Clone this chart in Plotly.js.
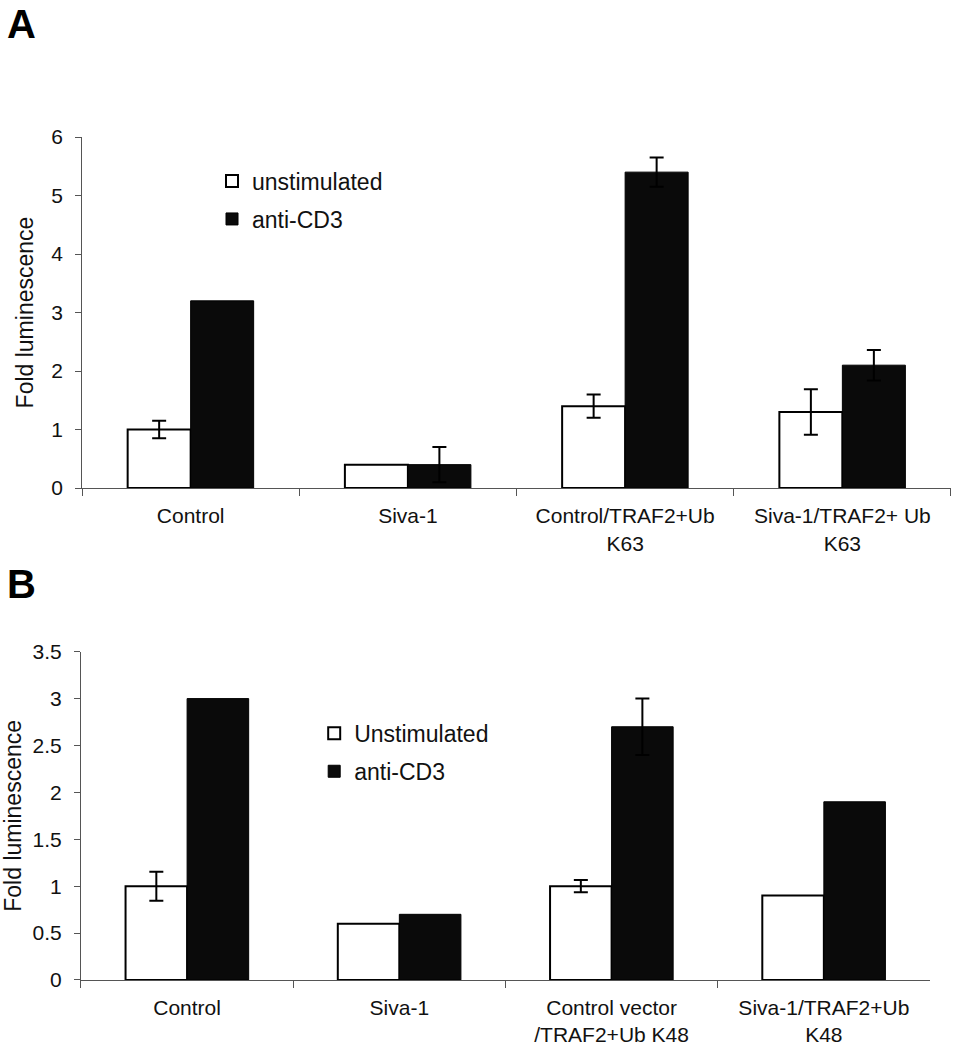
<!DOCTYPE html>
<html>
<head>
<meta charset="utf-8">
<script src="https://cdn.plot.ly/plotly-3.0.1.min.js"></script>
<style>html,body{margin:0;padding:0;background:#fff;}#chart{width:955px;height:1050px;}</style>
</head>
<body>
<div id="chart"></div>
<script>
// Panel A data (NaN = no error bar drawn)
const catsA = ["Control", "Siva-1", "Control/TRAF2+Ub<br>K63", "Siva-1/TRAF2+ Ub<br>K63"];
const unstimA = [1.0, 0.4, 1.4, 1.3];
const unstimErrA = [0.15, NaN, 0.2, 0.39];
const antiA = [3.2, 0.4, 5.4, 2.1];
const antiErrA = [NaN, 0.3, 0.25, 0.26];
const yTicksA = [0, 1, 2, 3, 4, 5, 6];

// Panel B data
const catsB = ["Control", "Siva-1", "Control vector<br>/TRAF2+Ub K48", "Siva-1/TRAF2+Ub<br>K48"];
const unstimB = [1.0, 0.6, 1.0, 0.9];
const unstimErrB = [0.155, NaN, 0.065, NaN];
const antiB = [3.0, 0.7, 2.7, 1.9];
const antiErrB = [NaN, NaN, 0.3, NaN];
const yTicksB = [0, 0.5, 1, 1.5, 2, 2.5, 3, 3.5];

const FONT = "Liberation Sans, Arial, sans-serif";
const errStyle = {type: "data", visible: true, color: "#000", thickness: 2, width: 7};

const traces = [
  {type: "bar", x: catsA, y: unstimA, name: "unstimulated", xaxis: "x", yaxis: "y",
   marker: {color: "#fff", line: {color: "#000", width: 2}},
   error_y: Object.assign({array: unstimErrA}, errStyle), legend: "legend", legendgroup: "a1"},
  {type: "bar", x: catsA, y: antiA, name: "anti-CD3", xaxis: "x", yaxis: "y",
   marker: {color: "#0a0a0a", line: {color: "#000", width: 1}},
   error_y: Object.assign({array: antiErrA}, errStyle), legend: "legend", legendgroup: "a2"},
  {type: "bar", x: catsB, y: unstimB, name: "Unstimulated", xaxis: "x2", yaxis: "y2",
   marker: {color: "#fff", line: {color: "#000", width: 2}},
   error_y: Object.assign({array: unstimErrB}, errStyle), legend: "legend2", legendgroup: "b1"},
  {type: "bar", x: catsB, y: antiB, name: "anti-CD3", xaxis: "x2", yaxis: "y2",
   marker: {color: "#0a0a0a", line: {color: "#000", width: 1}},
   error_y: Object.assign({array: antiErrB}, errStyle), legend: "legend2", legendgroup: "b2"}
];

const axisCommon = {
  showline: true, linecolor: "#555", linewidth: 1, showgrid: false, zeroline: false,
  ticks: "outside", tickcolor: "#555", tickwidth: 1,
  tickfont: {family: FONT, size: 21, color: "#111"}, automargin: false, fixedrange: true
};

const legendCommon = {
  font: {family: FONT, size: 23, color: "#111"}, bgcolor: "rgba(0,0,0,0)",
  traceorder: "grouped", tracegroupgap: 5, xanchor: "left", yanchor: "top", xref: "paper", yref: "paper"
};

const layout = {
  width: 955, height: 1050,
  margin: {l: 0, r: 0, t: 0, b: 0},
  paper_bgcolor: "#fff", plot_bgcolor: "#fff",
  barmode: "group", bargap: 0.42, bargroupgap: 0,
  showlegend: true,
  font: {family: FONT, color: "#111"},
  xaxis: Object.assign({}, axisCommon, {domain: [0.0859, 0.9958], anchor: "y", type: "category",
    tickson: "boundaries", ticklen: 7, ticklabelstandoff: 9}),
  yaxis: Object.assign({}, axisCommon, {domain: [0.5352, 0.8695], anchor: "x", range: [0, 6],
    tickvals: yTicksA, ticktext: yTicksA.map(String), ticklen: 6, ticklabelstandoff: 8,
    title: {text: "Fold luminescence", font: {family: FONT, size: 23, color: "#111"}, standoff: 11}}),
  xaxis2: Object.assign({}, axisCommon, {domain: [0.0848, 0.9738], anchor: "y2", type: "category",
    tickson: "boundaries", ticklen: 7, ticklabelstandoff: 9}),
  yaxis2: Object.assign({}, axisCommon, {domain: [0.0667, 0.3793], anchor: "x2", range: [0, 3.5],
    tickvals: yTicksB, ticktext: yTicksB.map(String), ticklen: 6, ticklabelstandoff: 8,
    title: {text: "Fold luminescence", font: {family: FONT, size: 23, color: "#111"}, standoff: 16}}),
  legend: Object.assign({}, legendCommon, {x: 0.222, y: 0.848}),
  legend2: Object.assign({}, legendCommon, {x: 0.329, y: 0.322}),
  annotations: [
    {text: "<b>A</b>", x: 0.005, y: 1.0, xref: "paper", yref: "paper", xanchor: "left", yanchor: "top",
     showarrow: false, font: {family: FONT, size: 40, color: "#000"}},
    {text: "<b>B</b>", x: 0.005, y: 1 - 560 / 1050, xref: "paper", yref: "paper", xanchor: "left", yanchor: "top",
     showarrow: false, font: {family: FONT, size: 40, color: "#000"}}
  ]
};

Plotly.newPlot("chart", traces, layout, {displayModeBar: false, staticPlot: true});
</script>
</body>
</html>
